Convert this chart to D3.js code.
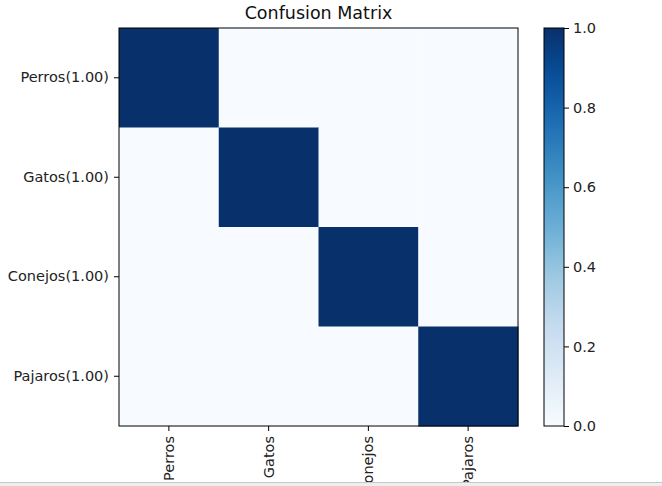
<!DOCTYPE html>
<html><head><meta charset="utf-8">
<script src="https://cdn.jsdelivr.net/npm/d3@7"></script>
<style>
html,body{margin:0;padding:0;background:#fff;}
svg{display:block;font-family:"DejaVu Sans",sans-serif;}
</style></head>
<body><svg id="c" width="662" height="486"></svg>
<script>
const categories = ["Perros","Gatos","Conejos","Pajaros"];
const classAccuracy = [1.00, 1.00, 1.00, 1.00];
const matrix = [
  [1, 0, 0, 0],
  [0, 1, 0, 0],
  [0, 0, 1, 0],
  [0, 0, 0, 1]
];
const colorbarTicks = [0.0, 0.2, 0.4, 0.6, 0.8, 1.0];
const title = "Confusion Matrix";

const svg = d3.select("#c");
const W = 662, H = 486;
const plot = {left: 119, top: 28, right: 518, bottom: 426};
const cb = {left: 544, right: 564};

const blues = d3.schemeBlues[9];
const color = d3.scaleLinear()
  .domain(d3.range(9).map(i => i / 8))
  .range(blues)
  .interpolate(d3.interpolateRgb);

const x = d3.scaleBand().domain(categories).range([plot.left, plot.right]);
const y = d3.scaleBand().domain(categories).range([plot.top, plot.bottom]);

const cells = [];
matrix.forEach((row, i) => row.forEach((v, j) => cells.push({r: categories[i], c: categories[j], v})));

svg.append("g").selectAll("rect").data(cells).join("rect")
  .attr("x", d => x(d.c)).attr("y", d => y(d.r))
  .attr("width", x.bandwidth() + 0.5).attr("height", y.bandwidth() + 0.5)
  .attr("fill", d => color(d.v));

svg.append("rect").attr("x", plot.left).attr("y", plot.top)
  .attr("width", plot.right - plot.left).attr("height", plot.bottom - plot.top)
  .attr("fill", "none").attr("stroke", "#000").attr("stroke-width", 1);

const fs = 14.5;
// Y axis
const yAxis = svg.append("g").attr("transform", `translate(${plot.left},0)`)
  .call(d3.axisLeft(y).tickSize(5).tickPadding(5)
    .tickFormat((d, i) => `${d}(${classAccuracy[i].toFixed(2)})`));
yAxis.select(".domain").remove();
yAxis.selectAll("text").attr("font-size", fs).attr("fill", "#222").attr("font-family", "DejaVu Sans");

// X axis
const xAxis = svg.append("g").attr("transform", `translate(0,${plot.bottom})`)
  .call(d3.axisBottom(x).tickSize(5).tickPadding(5));
xAxis.select(".domain").remove();
xAxis.selectAll("text")
  .attr("font-size", fs).attr("fill", "#222").attr("font-family", "DejaVu Sans")
  .attr("transform", "rotate(-90)")
  .attr("text-anchor", "end").attr("dy", "0.35em")
  .attr("x", -10).attr("y", 0);

// Title
svg.append("text").attr("x", (plot.left + plot.right) / 2).attr("y", 19)
  .attr("text-anchor", "middle").attr("font-size", 17.5).attr("fill", "#111")
  .text(title);

// Colorbar
const defs = svg.append("defs");
const grad = defs.append("linearGradient").attr("id", "g").attr("x1", 0).attr("y1", 1).attr("x2", 0).attr("y2", 0);
d3.range(0, 1.0001, 0.05).forEach(t => grad.append("stop").attr("offset", t).attr("stop-color", color(t)));
const cy = d3.scaleLinear().domain([0, 1]).range([plot.bottom, plot.top]);
svg.append("rect").attr("x", cb.left).attr("y", cy(1))
  .attr("width", cb.right - cb.left).attr("height", cy(0) - cy(1))
  .attr("fill", "url(#g)").attr("stroke", "#000").attr("stroke-width", 1);
const cAxis = svg.append("g").attr("transform", `translate(${cb.right},0)`)
  .call(d3.axisRight(cy).tickValues(colorbarTicks).tickSize(5).tickPadding(4).tickFormat(d3.format(".1f")));
cAxis.select(".domain").remove();
cAxis.selectAll("text").attr("font-size", fs).attr("fill", "#222").attr("font-family", "DejaVu Sans");

// bottom window strip (clips labels)
svg.append("rect").attr("x", 0).attr("y", 482).attr("width", W).attr("height", H - 482).attr("fill", "#eeeeee");
svg.append("line").attr("x1", 0).attr("x2", W).attr("y1", 482.5).attr("y2", 482.5).attr("stroke", "#c8c8c8");
</script></body></html>
